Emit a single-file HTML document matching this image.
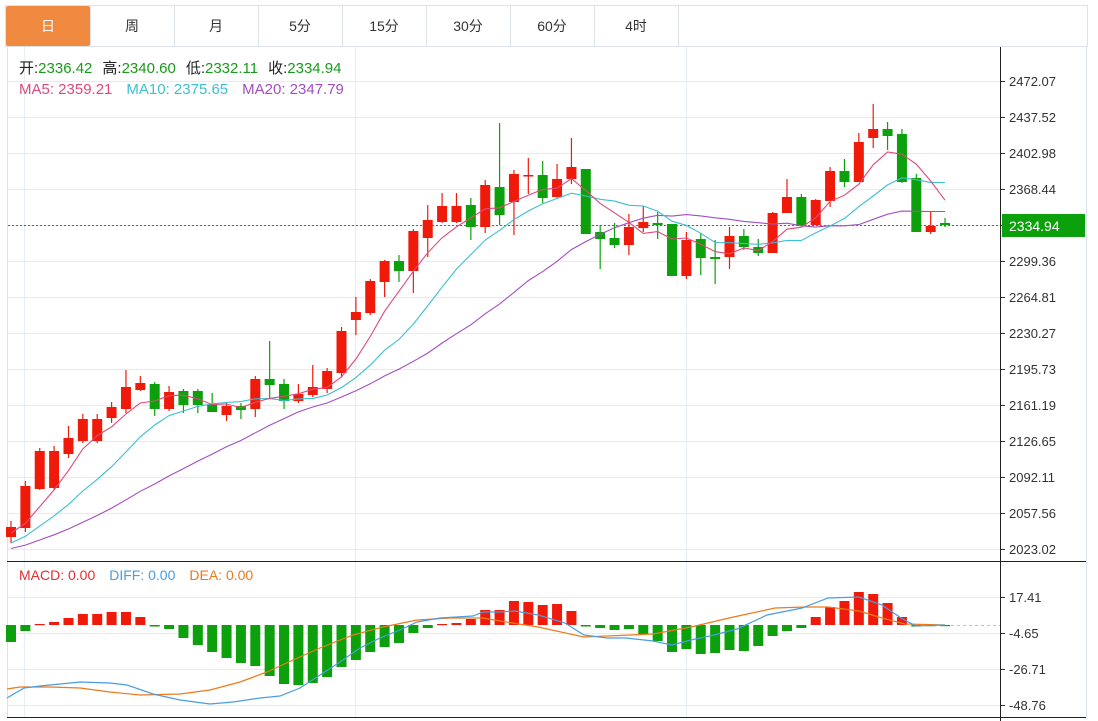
<!DOCTYPE html>
<html><head><meta charset="utf-8">
<style>
html,body{margin:0;padding:0;background:#fff;width:1098px;height:721px;overflow:hidden;font-family:"Liberation Sans","Noto Sans CJK SC",sans-serif;}
svg{position:absolute;left:0;top:0;}
</style></head>
<body>
<svg id="s" width="1098" height="721" xmlns="http://www.w3.org/2000/svg" font-family="Liberation Sans, Noto Sans CJK SC, sans-serif"></svg>
<script>
const S=document.getElementById('s');let h='';
// tab bar
h+='<rect x="5.5" y="5.5" width="1082" height="41" fill="#fff" stroke="#dde2e8"/>';
h+='<rect x="6" y="6" width="84" height="40" fill="#f08a40" rx="2"/>';
const tabs=['日','周','月','5分','15分','30分','60分','4时'];
tabs.forEach((t,i)=>{const cx=48+i*84;
 if(i>0)h+=`<line x1="${6+i*84+0.5}" y1="6" x2="${6+i*84+0.5}" y2="46" stroke="#dde2e8"/>`;
 h+=`<text x="${cx}" y="31" font-size="14" text-anchor="middle" fill="${i==0?'#fff':'#333'}">${t}</text>`;});
h+='<line x1="678.5" y1="6" x2="678.5" y2="46" stroke="#dde2e8"/>';
// frame
h+='<line x1="7.5" y1="47" x2="7.5" y2="717" stroke="#dde2e8"/>';
h+='<line x1="1086.5" y1="47" x2="1086.5" y2="717" stroke="#dde2e8"/>';
[24.5,355.5,686.5].forEach(x=>h+=`<line x1="${x}" y1="47" x2="${x}" y2="717" stroke="#e8edf2"/>`);
const py=[81,117,153,189,225,261,297,333,369,405,441,477,513,549];
const pl=['2472.07','2437.52','2402.98','2368.44','','2299.36','2264.81','2230.27','2195.73','2161.19','2126.65','2092.11','2057.56','2023.02'];
py.forEach((y,i)=>{h+=`<line x1="8" y1="${y+0.5}" x2="1000" y2="${y+0.5}" stroke="#e6ebf0"/>`;
 h+=`<line x1="1000" y1="${y+0.5}" x2="1005" y2="${y+0.5}" stroke="#333"/>`;
 if(pl[i])h+=`<text x="1009" y="${y+5}" font-size="13" fill="#333">${pl[i]}</text>`;});
const my=[597,633,669,705],ml=['17.41','-4.65','-26.71','-48.76'];
my.forEach((y,i)=>{h+=`<line x1="8" y1="${y+0.5}" x2="1000" y2="${y+0.5}" stroke="#e6ebf0"/>`;
 h+=`<line x1="1000" y1="${y+0.5}" x2="1005" y2="${y+0.5}" stroke="#333"/>`;
 h+=`<text x="1009" y="${y+5}" font-size="13" fill="#333">${ml[i]}</text>`;});
h+='<line x1="7" y1="561.5" x2="1086" y2="561.5" stroke="#222"/>';
h+='<line x1="7" y1="717.5" x2="1086" y2="717.5" stroke="#222"/>';
h+='<line x1="1000.5" y1="47" x2="1000.5" y2="721" stroke="#222"/>';
// candles: [open,close,high,low] in y, red if close<open(y)
const C=[[537,527,521,543],[528,486,481,532],[489,451,448,490],[488,451,446,490],[454,438,426,458],[441,419,414,443],[441,419,414,443],[418,407,402,423],[409,387,370,413],[390,383,376,391],
[384,409,382,416],[409,392,386,411],[391,405,389,413],[391,405,389,413],[404,412,393,412],[415,406,403,421],[406,410,403,419],[409,379,376,417],[379,385,341,399],[384,401,379,409],
[401,394,384,403],[395,387,365,397],[389,371,368,393],[373,331,327,377],[320,312,297,335],[313,281,279,315],[282,261,260,297],[261,271,255,282],[271,231,229,293],[238,220,205,257],
[222,206,193,223],[222,206,193,223],[205,227,198,240],[227,185,180,233],[187,215,123,225],[202,174,170,235],[176,175,158,194],[175,198,161,203],[197,179,164,198],[179,167,138,184],
[169,234,169,234],[232,239,225,269],[238,245,223,248],[245,227,214,255],[228,222,206,232],[223,225,212,239],[224,276,224,276],[276,240,232,279],[239,258,233,275],[257,259,240,284],
[257,236,227,269],[236,247,229,250],[247,253,239,256],[253,213,212,253],[213,197,179,213],[197,226,194,226],[225,200,199,225],[201,171,167,207],[171,182,159,187],[182,142,133,182],
[138,129,104,148],[129,136,122,150],[134,182,129,183],[178,232,174,232],[232,226,211,234],[223,225,218,227]];
const X=i=>11+i*14.37;
const RED='#f01a0a',GRN='#0ca00c';
// MA
const closes=[];for(let i=0;i<10;i++)closes.push(554);for(let i=0;i<5;i++)closes.push(553);for(let i=0;i<4;i++)closes.push(534.5);
C.forEach(c=>closes.push(c[1]));
function ma(n){const p=[];for(let i=0;i<C.length;i++){let s=0;for(let k=0;k<n;k++)s+=closes[i+19-k];p.push(X(i).toFixed(1)+','+(s/n).toFixed(1));}return p.join(' ');}
// dashed current price
h+='<line x1="8" y1="225.5" x2="1000" y2="225.5" stroke="#1a9a1a" stroke-dasharray="2,2"/>';
C.forEach((c,i)=>{const x=X(i),red=c[1]<c[0]||(c[1]==c[0]);const col=(c[1]<c[0])?RED:GRN;
 const top=Math.min(c[0],c[1]),bot=Math.max(c[0],c[1]);
 h+=`<line x1="${x}" y1="${c[2]}" x2="${x}" y2="${c[3]}" stroke="${col}" stroke-width="1.2"/>`;
 h+=`<rect x="${x-5}" y="${top}" width="10" height="${Math.max(bot-top,1.5)}" fill="${col}"/>`;});
h+=`<polyline points="${ma(20)}" fill="none" stroke="#a24fc0" stroke-width="1.1"/>`;
h+=`<polyline points="${ma(10)}" fill="none" stroke="#3cbfd0" stroke-width="1.1"/>`;
h+=`<polyline points="${ma(5)}" fill="none" stroke="#e0487c" stroke-width="1.1"/>`;
// price label
h+='<rect x="1002" y="214" width="83" height="23" fill="#0ca00c"/><text x="1009" y="231" font-size="14" fill="#fff">2334.94</text>';
// header text
h+='<text x="19" y="73" font-size="15"><tspan fill="#222">开:</tspan><tspan fill="#1a9a1a">2336.42</tspan><tspan fill="#222" dx="10">高:</tspan><tspan fill="#1a9a1a">2340.60</tspan><tspan fill="#222" dx="10">低:</tspan><tspan fill="#1a9a1a">2332.11</tspan><tspan fill="#222" dx="10">收:</tspan><tspan fill="#1a9a1a">2334.94</tspan></text>';
h+='<text x="19" y="94" font-size="15"><tspan fill="#e0487c">MA5: 2359.21</tspan><tspan fill="#3cbfd0" dx="14">MA10: 2375.65</tspan><tspan fill="#a24fc0" dx="14">MA20: 2347.79</tspan></text>';
h+='<text x="19" y="580" font-size="14"><tspan fill="#e03030">MACD: 0.00</tspan><tspan fill="#4a9de0" dx="14">DIFF: 0.00</tspan><tspan fill="#e87a20" dx="14">DEA: 0.00</tspan></text>';
// MACD bars (y ends, zero at 625)
const M=[642,631,624,622,618,614,614,612,612,617,626.5,629,638,645,652,658,663,666,676,684,685,683,677,667,660,652,647,643,633,628,624,623,619,610,610,
601,602,605,604,611,626.5,628,630,629,634,641,652,649,654,653,650,651,646,636,631,628,617,607,601,592,594,603,617,626.5,625.5,625.5];
h+='<line x1="945" y1="625.5" x2="1000" y2="625.5" stroke="#8fd0f0" stroke-dasharray="3,3"/>';
M.forEach((v,i)=>{const x=X(i);const col=v<625?RED:GRN;const t=Math.min(v,625),b=Math.max(v,625);
 h+=`<rect x="${x-5}" y="${t}" width="10" height="${Math.max(b-t,1.2)}" fill="${col}"/>`;});
const dif='7,698 24,688 40,686 80,682 110,683 127,685 153,694 180,700 210,704 233,702 260,698 280,696 300,688 320,675 340,662 360,648 380,638 400,630 417,622 440,618 473,616 483,612 500,612 515,611 538,615 565,623 584,635 607,638 626,638 653,641 672,645 691,640 714,635 737,629 767,615 802,608 828,598 859,597 882,605 901,618 916,626 945,625';
const dea='7,689 20,687 50,687 80,688 110,692 140,695 180,694 210,690 240,682 267,672 293,660 320,648 353,635 383,627 417,620 450,618 483,618 500,621 538,627 584,637 653,634 691,627 729,618 775,608 805,607 828,607 859,611 882,618 905,624 945,625';
h+=`<polyline points="${dea}" fill="none" stroke="#ee7a1a" stroke-width="1.2"/>`;
h+=`<polyline points="${dif}" fill="none" stroke="#4a9de0" stroke-width="1.2"/>`;
S.innerHTML=h;
</script>
</body></html>
